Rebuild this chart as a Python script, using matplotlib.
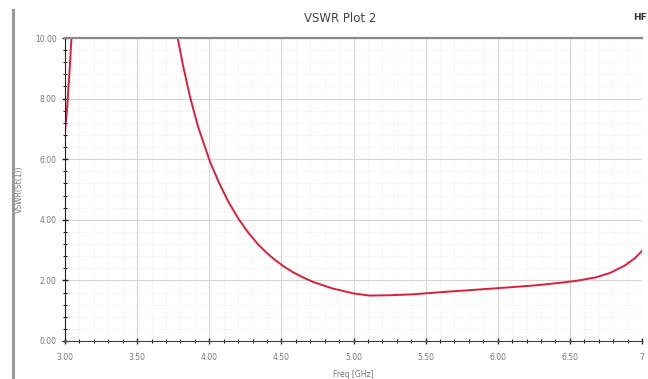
import matplotlib
matplotlib.use('Agg')
import matplotlib.pyplot as plt
from matplotlib.lines import Line2D
from matplotlib.ticker import MultipleLocator

# left branch (rises off the top just above 3 GHz)
freq_lo = [3.00, 3.015, 3.03, 3.045, 3.06]
vswr_lo = [6.9, 7.7, 8.8, 10.0, 11.2]

# main branch
freq_hi = [3.74, 3.781, 3.82, 3.867, 3.924, 4.005, 4.065, 4.13, 4.20, 4.27,
           4.34, 4.40, 4.46, 4.52, 4.58, 4.65, 4.72, 4.85, 5.00, 5.11,
           5.25, 5.41, 5.60, 5.81, 6.05, 6.27, 6.45, 6.55, 6.68, 6.78,
           6.88, 6.95, 7.00]
vswr_hi = [11.2, 10.0, 9.05, 8.05, 7.05, 5.92, 5.25, 4.62, 4.05, 3.58,
           3.18, 2.90, 2.66, 2.45, 2.27, 2.10, 1.95, 1.74, 1.57, 1.50,
           1.51, 1.54, 1.61, 1.68, 1.76, 1.84, 1.93, 1.99, 2.10, 2.25,
           2.49, 2.73, 2.97]

xticks = [3.0, 3.5, 4.0, 4.5, 5.0, 5.5, 6.0, 6.5, 7.0]
xlabels = ['3.00', '3.50', '4.00', '4.50', '5.00', '5.50', '6.00', '6.50', '7']
yticks = [0, 2, 4, 6, 8, 10]
ylabels = ['0.00', '2.00', '4.00', '6.00', '8.00', '10.00']

fig = plt.figure(figsize=(6.48, 3.79), dpi=100)
ax = fig.add_axes([65 / 648, 38 / 379, 577 / 648, 303 / 379])

red = '#d8203c'
ax.plot(freq_lo, vswr_lo, color=red, lw=1.4)
ax.plot(freq_hi, vswr_hi, color=red, lw=1.4)

ax.set_xlim(3, 7)
ax.set_ylim(0, 10)
ax.set_xticks(xticks)
ax.set_xticklabels(xlabels)
ax.set_yticks(yticks)
ax.set_yticklabels(ylabels)
ax.xaxis.set_minor_locator(MultipleLocator(0.1))
ax.yaxis.set_minor_locator(MultipleLocator(0.4))

ax.grid(which='major', color='#d6d6d6', lw=0.8)
ax.grid(which='minor', color='#e8e8e8', lw=0.6, ls=':')
ax.set_axisbelow(True)

ax.tick_params(which='both', direction='inout', colors='#222222',
               labelcolor='#777777', labelsize=5.5)
ax.tick_params(which='major', length=5, width=1)
ax.tick_params(which='minor', length=3, width=0.8)
ax.tick_params(axis='x', pad=6)

ax.spines['right'].set_visible(False)
ax.spines['top'].set_color('#8a8a8a')
ax.spines['top'].set_linewidth(1.6)
ax.spines['left'].set_color('#222222')
ax.spines['bottom'].set_color('#444444')

ax.set_xlabel('Freq [GHz]', fontsize=5.5, color='#777777', labelpad=6)
ax.set_ylabel('VSWR(St(1))', fontsize=5.5, color='#777777', labelpad=8)

fig.text(340 / 648, 1 - 18 / 379, 'VSWR Plot 2', ha='center', va='center',
         fontsize=8.5, color='#444444')
fig.text(633 / 648, 1 - 18 / 379, 'HF', ha='left', va='center',
         fontsize=6.5, color='#333333', fontweight='bold')

fig.add_artist(Line2D([13 / 648, 13 / 648], [0, 1 - 10 / 379],
                      color='#9a9a9a', lw=2.2, transform=fig.transFigure))

fig.savefig('out.png', dpi=100)
